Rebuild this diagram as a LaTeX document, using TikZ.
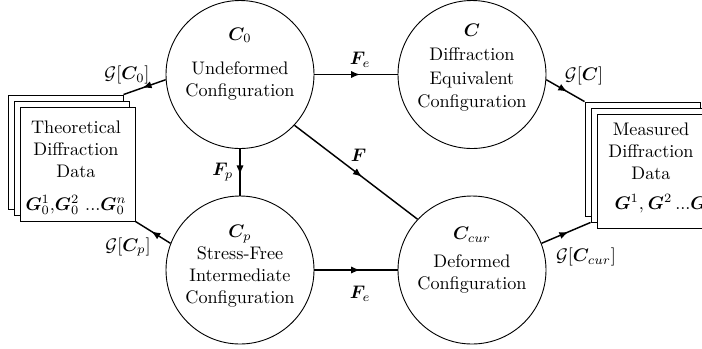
\documentclass[tikz,border=0pt]{standalone}
\usepackage{bm}
\usetikzlibrary{arrows.meta,decorations.markings}
\begin{document}
\begin{tikzpicture}[x=0.55pt,y=-0.55pt,
  config/.style={circle,draw,line width=0.5pt,minimum size=81.4pt,inner sep=0pt},
  ctext/.style={align=center,inner sep=0pt},
  sheet/.style={draw,fill=white,line width=0.5pt,minimum width=63.25pt,minimum height=62.7pt,inner sep=0pt},
  flow/.style={line width=0.8pt,
    decoration={markings,mark=at position 0.55 with {\arrow{Latex[length=5pt,width=4pt]}}},
    postaction={decorate}},
  glabel/.style={inner sep=0pt}
]
\useasboundingbox (0,0) rectangle (702,348);
\clip (0,0) rectangle (702,348);

% configurations
\node[config] (c0) at (240,74.5) {};
\node[config] (c) at (472,74.5) {};
\node[config] (cp) at (240,270) {};
\node[config] (ccur) at (472,270) {};

\node[ctext] (c0t) at (240,64) {$\bm{C}_0$\\[7pt]Undeformed\\Configuration};
\node[ctext] (ct) at (472,68) {$\bm{C}$\\[1pt]Diffraction\\[1pt]Equivalent\\[1pt]Configuration};
\node[ctext] (cpt) at (240,266) {$\bm{C}_p$\\Stress-Free\\Intermediate\\Configuration};
\node[ctext] (ccurt) at (472,260) {$\bm{C}_{cur}$\\[3.5pt]Deformed\\Configuration};

% theoretical data sheets
\node[sheet] (tb3) at (65.5,152) {};
\node[sheet] (tb2) at (71.5,158) {};
\node[sheet] (tb1) at (77.5,164) {};
\node[ctext] (tbt) at (76,168) {Theoretical\\Diffraction\\Data\\[6pt]$\bm{G}^1_0{,}\bm{G}^2_0\ ...\bm{G}^n_0$};

% measured data sheets
\node[sheet] (mb3) at (642.5,159) {};
\node[sheet] (mb2) at (648.5,165) {};
\node[sheet] (mb1) at (654.5,171) {};
\node[ctext] (mbt) at (651,168) {Measured\\Diffraction\\Data\\[4.5pt]\hspace*{16pt}$\bm{G}^1{,}\:\bm{G}^2\,...\bm{G}^n$};

% deformation maps
\draw[flow] (c0.east) -- node[pos=0.55,above] {$\bm{F}_e$} (c.west);
\draw[flow] (cp.east) -- node[pos=0.55,below=5pt] {$\bm{F}_e$} (ccur.west);
\draw[flow] (c0.south) -- node[left] {$\bm{F}_p$} (cp.north);
\draw[flow] (c0.-43) -- node[pos=0.52,above=3pt] {$\bm{F}$} (ccur.137);

% diffraction maps
\draw[flow] (c0.184) -- (tb3.north east);
\draw[flow] (cp.159) -- (tb1.south east);
\draw[flow] (c.-4) -- (mb3.north west);
\draw[flow] (ccur.21) -- (mb2.south west);

\node[glabel] (g0) at (127,75) {$\mathcal{G}[\bm{C}_0]$};
\node[glabel] (gp) at (128,247) {$\mathcal{G}[\bm{C}_p]$};
\node[glabel] (gc) at (584,76) {$\mathcal{G}[\bm{C}]$};
\node[glabel] (gcur) at (586,257) {$\mathcal{G}[\bm{C}_{cur}]$};
\end{tikzpicture}
\end{document}
